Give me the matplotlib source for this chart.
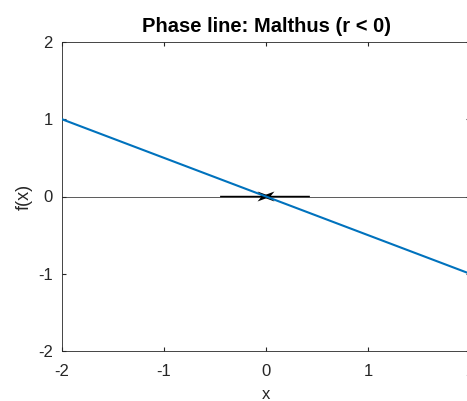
import matplotlib.pyplot as plt
import numpy as np

# Phase line for Malthus model with r < 0: f(x) = r*x

r = -0.5
x_vals = np.array([-2.0, 2.0])
f_vals = r * x_vals

# arrows on the phase line (start points and directions)
arrow_x = [-0.45, 0.43]
arrow_u = [0.50, -0.48]

plt.rcParams['font.family'] = ['Liberation Sans', 'DejaVu Sans']
plt.rcParams['axes.unicode_minus'] = False

fig = plt.figure(figsize=(4.67, 4.01), dpi=100)
ax = fig.add_axes([62 / 467, 50 / 401, 408 / 467, 309 / 401])

ax.axhline(0, color='#404040', lw=0.6, zorder=1)
ax.plot(x_vals, f_vals, color='#0072BD', lw=1.5, zorder=3)
ax.quiver(arrow_x, [0, 0], arrow_u, [0, 0], angles='xy', scale_units='xy', scale=1,
          color='black', width=0.0035, headwidth=7, headlength=9.5, headaxislength=7, zorder=2)

ax.set_xlim(-2, 2)
ax.set_ylim(-2, 2)
ax.set_xticks([-2, -1, 0, 1, 2])
ax.set_yticks([-2, -1, 0, 1, 2])
ax.tick_params(direction='in', top=True, right=True, labelsize=12, length=3,
               color='#262626', labelcolor='#262626')
ax.tick_params(axis='x', pad=9)
ax.tick_params(axis='y', pad=6.5)
for s in ax.spines.values():
    s.set_color('#262626')
    s.set_linewidth(0.6)
ax.set_xlabel('x', fontsize=12, color='#262626')
ax.set_ylabel('f(x)', fontsize=13, color='#262626')
ax.xaxis.set_label_coords(0.5, -0.117)
ax.yaxis.set_label_coords(-0.071, 0.5)
ax.set_title('Phase line: Malthus (r < 0)', fontsize=14.5, fontweight='bold', pad=7)

plt.savefig('out.png', dpi=100)
